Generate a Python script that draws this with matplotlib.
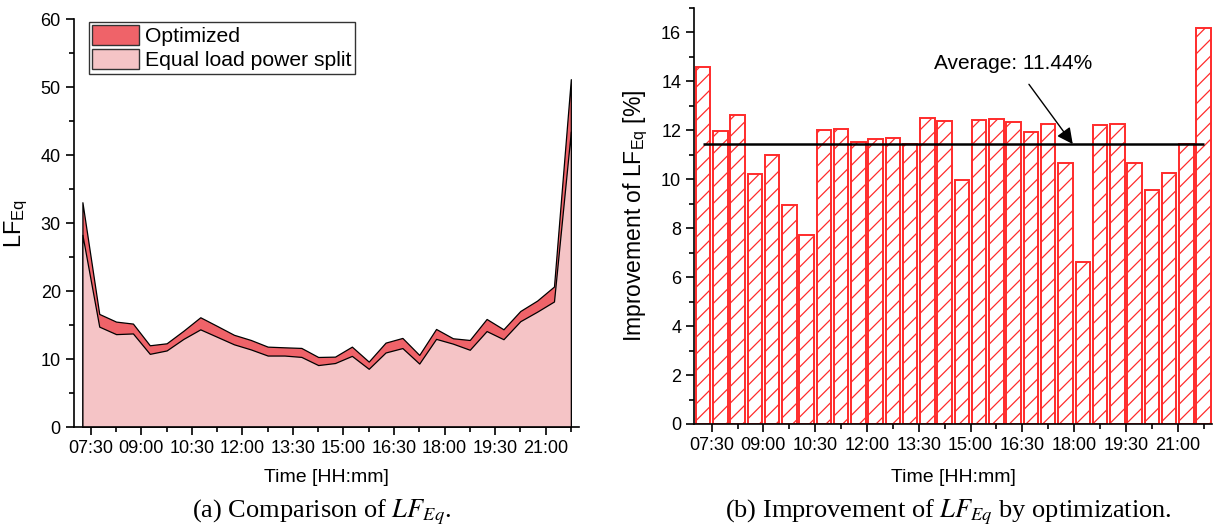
import matplotlib
matplotlib.use("Agg")
import matplotlib.pyplot as plt
from matplotlib.ticker import MultipleLocator, FuncFormatter
from matplotlib.patches import Patch

# ---------------- data ----------------
times = ["07:15", "07:45", "08:15", "08:45", "09:15", "09:45", "10:15", "10:45",
         "11:15", "11:45", "12:15", "12:45", "13:15", "13:45", "14:15", "14:45",
         "15:15", "15:45", "16:15", "16:45", "17:15", "17:45", "18:15", "18:45",
         "19:15", "19:45", "20:15", "20:45", "21:15", "21:45"]

# LF_Eq, equal load power split (upper curve)
lf_equal = [33.1, 16.67, 15.54, 15.25, 12.06, 12.35, 14.2, 16.18, 14.9, 13.6,
            12.84, 11.86, 11.76, 11.67, 10.34, 10.39, 11.86, 9.66, 12.45, 13.14,
            10.64, 14.46, 13.09, 12.84, 15.93, 14.41, 17.1, 18.63, 20.7, 51.2]

# LF_Eq, optimized (lower curve)
lf_opt = [28.3, 14.8, 13.7, 13.8, 10.8, 11.3, 13.0, 14.4, 13.3, 12.2,
          11.45, 10.55, 10.55, 10.35, 9.15, 9.45, 10.5, 8.6, 11.0, 11.65,
          9.37, 13.0, 12.3, 11.4, 14.15, 12.95, 15.6, 17.0, 18.5, 43.5]

# Improvement of LF_Eq [%]
improvement = [14.59, 11.96, 12.61, 10.23, 10.98, 8.95, 7.72, 12.02, 12.07, 11.51,
               11.64, 11.68, 11.45, 12.50, 12.39, 9.97, 12.41, 12.47, 12.34, 11.94,
               12.28, 10.66, 6.60, 12.20, 12.26, 10.65, 9.56, 10.24, 11.45, 16.18]

average = 11.44
avg_label = "Average: 11.44%"

legend_labels = ["Optimized", "Equal load power split"]


def to_hours(s):
    h, m = s.split(":")
    return int(h) + int(m) / 60.0


x = [to_hours(t) for t in times]

# ---------------- style ----------------
plt.rcParams['font.family'] = ['Liberation Sans', 'DejaVu Sans']
plt.rcParams['mathtext.fontset'] = 'custom'
plt.rcParams['mathtext.rm'] = 'Liberation Sans'
plt.rcParams['mathtext.it'] = 'Liberation Sans:italic'
plt.rcParams['hatch.linewidth'] = 0.9

C_OPT = '#EF6369'
C_EQ = '#F5C4C6'
TICK_FS = 13
LABEL_FS = 14


def hhmm(v, pos=None):
    h = int(v)
    m = int(round((v - h) * 60))
    if m == 60:
        h, m = h + 1, 0
    return f"{h:02d}:{m:02d}"


def style_axis(ax):
    for s in ('top', 'right'):
        ax.spines[s].set_visible(False)
    for s in ('left', 'bottom'):
        ax.spines[s].set_linewidth(1.2)
    ax.xaxis.set_major_locator(MultipleLocator(1.5))
    ax.xaxis.set_minor_locator(MultipleLocator(0.75))
    ax.xaxis.set_major_formatter(FuncFormatter(hhmm))
    ax.tick_params(which='major', direction='out', length=6, width=1.2,
                   labelsize=TICK_FS)
    ax.tick_params(which='minor', direction='out', length=3.5, width=1.2)
    ax.set_xlim(7.0, 22.0)


fig = plt.figure(figsize=(12.21, 5.30), dpi=100)

# ---------------- (a) ----------------
ax1 = fig.add_axes([0.0606, 0.1938, 0.4138, 0.7698])
ax1.fill_between(x, 0, lf_equal, facecolor=C_OPT, edgecolor='black', linewidth=0.9)
ax1.fill_between(x, 0, lf_opt, facecolor=C_EQ, edgecolor='black', linewidth=0.9)
style_axis(ax1)
ax1.set_ylim(0, 60)
ax1.yaxis.set_major_locator(MultipleLocator(10))
ax1.yaxis.set_minor_locator(MultipleLocator(5))
ax1.set_xlabel("Time [HH:mm]", fontsize=LABEL_FS)
ax1.xaxis.set_label_coords(0.5, -0.102)
ax1.set_ylabel(r"LF$_{\mathrm{Eq}}$", fontsize=17)
ax1.yaxis.set_label_coords(-0.087, 0.5)

handles = [Patch(facecolor=C_OPT, edgecolor='#333333', linewidth=1.0),
           Patch(facecolor=C_EQ, edgecolor='#333333', linewidth=1.0)]
leg = ax1.legend(handles, legend_labels, loc='upper left',
                 bbox_to_anchor=(0.03, 0.993), fontsize=15.2, frameon=True,
                 fancybox=False, edgecolor='#333333', framealpha=1,
                 borderaxespad=0, borderpad=0.15, handlelength=2.2,
                 handleheight=1.05, handletextpad=0.3, labelspacing=0.15)
leg.get_frame().set_linewidth(1.0)

# ---------------- (b) ----------------
ax2 = fig.add_axes([0.5687, 0.2, 0.4241, 0.7849])
ax2.bar(x, improvement, width=0.42, facecolor='white', edgecolor='#FF2B2B',
        linewidth=1.4, hatch='//')
style_axis(ax2)
ax2.set_ylim(0, 17)
ax2.yaxis.set_major_locator(MultipleLocator(2))
ax2.yaxis.set_minor_locator(MultipleLocator(1))
ax2.hlines(average, x[0], x[-1], colors='black', linewidth=1.8, zorder=5)
ax2.annotate(avg_label, xy=(17.96, average), xytext=(16.24, 14.75),
             ha='center', va='center', fontsize=15,
             arrowprops=dict(arrowstyle='-|>', color='black', lw=1.0,
                             mutation_scale=24, shrinkA=8, shrinkB=0))
ax2.set_xlabel("Time [HH:mm]", fontsize=LABEL_FS)
ax2.xaxis.set_label_coords(0.5, -0.108)
ax2.set_ylabel(r"Improvement of LF$_{\mathrm{Eq}}$ [%]", fontsize=16.5)
ax2.yaxis.set_label_coords(-0.0857, 0.5)

# ---------------- captions ----------------
fig.text(322 / 1221, 1 - 512 / 530, r"(a) Comparison of $LF_{Eq}$.",
         ha='center', va='center', fontsize=19, family='Liberation Serif',
         math_fontfamily='stix')
fig.text(948 / 1221, 1 - 512 / 530, r"(b) Improvement of $LF_{Eq}$ by optimization.",
         ha='center', va='center', fontsize=19, family='Liberation Serif',
         math_fontfamily='stix')

fig.savefig("out.png", dpi=100)
